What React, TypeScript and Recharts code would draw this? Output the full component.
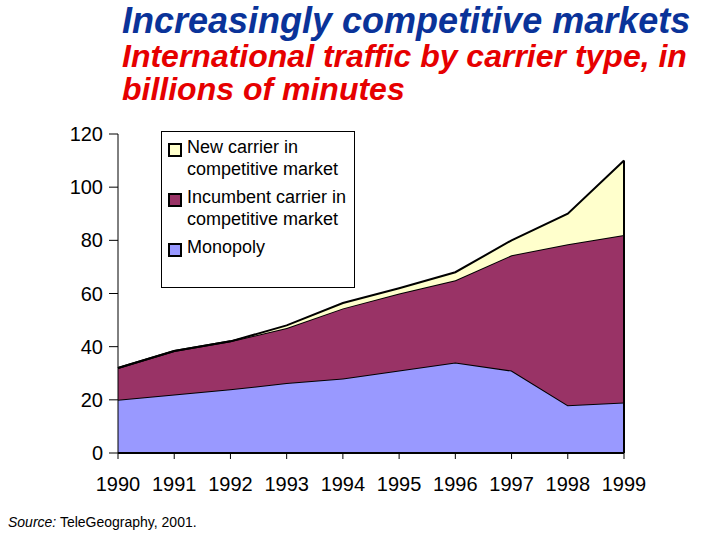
import { Area, AreaChart, ReferenceLine, XAxis, YAxis } from 'recharts';

const years = ['1990', '1991', '1992', '1993', '1994', '1995', '1996', '1997', '1998', '1999'];
const monopoly = [20, 22, 24, 26.3, 28, 31, 34, 31, 18, 19];
const incumbent = [12, 16.4, 18, 20.7, 26.4, 29, 31, 43.4, 60.5, 63];
const newCarrier = [0, 0, 0, 1, 2, 2, 3, 5.6, 11.5, 28];
const yTicks = [0, 20, 40, 60, 80, 100, 120];

const series = [
  { key: 'monopoly', name: 'Monopoly', color: '#9999ff' },
  { key: 'incumbent', name: 'Incumbent carrier in competitive market', color: '#993366' },
  { key: 'newCarrier', name: 'New carrier in competitive market', color: '#ffffcc' },
];

const legendLines: Record<string, string[]> = {
  newCarrier: ['New carrier in', 'competitive market'],
  incumbent: ['Incumbent carrier in', 'competitive market'],
  monopoly: ['Monopoly'],
};

const data = years.map((year, i) => ({
  year,
  monopoly: monopoly[i],
  incumbent: incumbent[i],
  newCarrier: newCarrier[i],
}));

const lastYear = years[years.length - 1];
const lastTotal = monopoly[9] + incumbent[9] + newCarrier[9];

const font = '"Liberation Sans", Arial, sans-serif';

function LegendBox() {
  return (
    <div
      style={{
        position: 'absolute',
        left: 161,
        top: 131,
        width: 194,
        height: 157,
        border: '1px solid #000',
        background: '#fff',
        boxSizing: 'border-box',
        padding: '6px 0 0 6px',
        fontFamily: font,
        fontSize: 18,
        color: '#000',
      }}
    >
      {[...series].reverse().map((s) => (
        <div key={s.key} style={{ display: 'flex', marginBottom: 8 }}>
          <div
            style={{
              width: 10,
              height: 10,
              marginTop: 5,
              marginRight: 5,
              border: '2px solid #000',
              background: s.color,
              flexShrink: 0,
            }}
          />
          <div style={{ lineHeight: '22px', marginTop: -2 }}>
            {legendLines[s.key].map((l) => (
              <div key={l}>{l}</div>
            ))}
          </div>
        </div>
      ))}
    </div>
  );
}

export default function App() {
  return (
    <div style={{ position: 'absolute', left: 0, top: 0, width: 720, height: 540, background: '#fff' }}>
      <div
        style={{
          position: 'absolute',
          left: 122,
          top: 3,
          fontFamily: font,
          fontWeight: 'bold',
          fontStyle: 'italic',
          fontSize: 36,
          lineHeight: '36px',
          color: '#0a3399',
          whiteSpace: 'nowrap',
        }}
      >
        Increasingly competitive markets
      </div>
      <div
        style={{
          position: 'absolute',
          left: 122,
          top: 40,
          fontFamily: font,
          fontWeight: 'bold',
          fontStyle: 'italic',
          fontSize: 32,
          lineHeight: '33px',
          color: '#e60000',
          whiteSpace: 'nowrap',
        }}
      >
        International traffic by carrier type, in
        <br />
        billions of minutes
      </div>
      <AreaChart
        width={720}
        height={540}
        data={data}
        margin={{ top: 134, right: 96, bottom: 57, left: 58 }}
      >
        <XAxis
          dataKey="year"
          axisLine={{ stroke: '#000', strokeWidth: 2 }}
          tickLine={{ stroke: '#000' }}
          tickSize={6}
          tickMargin={18}
          tick={{ fill: '#000', fontSize: 20, fontFamily: font }}
          interval={0}
        />
        <YAxis
          domain={[0, 120]}
          ticks={yTicks}
          width={60}
          interval={0}
          axisLine={{ stroke: '#000' }}
          tickLine={{ stroke: '#000' }}
          tickSize={9}
          tickMargin={6}
          tick={{ fill: '#000', fontSize: 20, fontFamily: font }}
        />
        {series.map((s) => (
          <Area
            key={s.key}
            type="linear"
            dataKey={s.key}
            name={s.name}
            stackId="1"
            fill={s.color}
            fillOpacity={1}
            stroke="#000"
            strokeWidth={2}
            dot={false}
            activeDot={false}
            isAnimationActive={false}
          />
        ))}
        <ReferenceLine
          segment={[
            { x: lastYear, y: 0 },
            { x: lastYear, y: lastTotal },
          ]}
          stroke="#000"
          strokeWidth={2}
        />
      </AreaChart>
      <LegendBox />
      <div
        style={{
          position: 'absolute',
          left: 8,
          top: 514,
          fontFamily: font,
          fontSize: 14,
          color: '#000',
          whiteSpace: 'nowrap',
        }}
      >
        <i>Source:</i> TeleGeography, 2001.
      </div>
    </div>
  );
}
